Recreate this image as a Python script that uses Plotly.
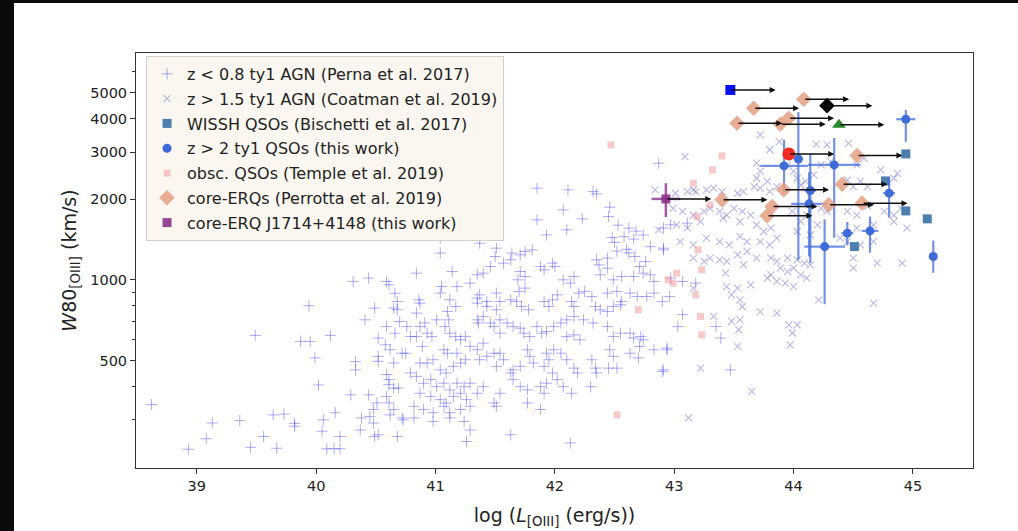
import numpy as np
import plotly.graph_objects as go

# ---------------- data (log L[OIII] in erg/s, W80 in km/s) ----------------
PERNA = [
    (38.62, 342), (38.93, 233), (39.08, 255), (39.13, 292), (39.36, 298), (39.45, 237), (39.56, 260),
    (39.67, 235), (39.64, 313), (39.73, 315), (39.82, 284), (39.82, 291), (39.49, 620), (39.94, 800),
    (39.87, 589), (39.95, 589), (40.12, 620), (39.99, 511), (40.02, 405), (40.06, 300), (40.05, 272),
    (40.16, 319), (40.20, 260), (40.09, 234), (40.15, 234), (40.20, 234), (40.31, 986), (40.44, 1015),
    (40.49, 784), (40.41, 709), (40.33, 495), (40.33, 461), (40.29, 372), (40.44, 372), (40.59, 986),
    (40.61, 958), (40.66, 891), (40.68, 830), (40.65, 784), (40.68, 773), (40.70, 699), (40.59, 669),
    (40.66, 632), (40.52, 606), (40.58, 572), (40.62, 548), (40.52, 518), (40.52, 496), (40.65, 489),
    (40.72, 532), (40.59, 443), (40.61, 424), (40.61, 406), (40.65, 394), (40.69, 394), (40.59, 367),
    (40.61, 347), (40.65, 328), (40.62, 313), (40.51, 347), (40.48, 328), (40.45, 309), (40.38, 305),
    (40.48, 292), (40.37, 275), (40.52, 264), (40.49, 260), (40.68, 260), (40.72, 305),
    (42.87, 2725), (41.85, 2198), (42.11, 2167), (42.32, 2135), (42.35, 2094), (42.07, 1824), (42.23, 1689),
    (42.46, 1867), (42.45, 1723), (41.85, 1675), (41.93, 1472), (42.10, 1537), (41.04, 1431), (41.04, 1258),
    (41.37, 1370), (40.84, 1059), (41.14, 1074), (42.53, 1600), (42.62, 1560), (42.68, 1520), (42.74, 1470),
    (42.58, 1450), (42.66, 1420), (42.60, 1300), (42.62, 1260), (42.52, 1280), (42.48, 1440), (42.50, 1380),
    (42.80, 1330), (42.91, 1313),
    (41.51, 1313), (41.64, 1258), (41.71, 1240), (41.75, 1276), (41.81, 1294), (41.63, 1188), (41.57, 1154),
    (41.50, 1222), (41.88, 1121), (41.91, 1090), (41.98, 1154), (42.00, 1121), (41.71, 1074), (41.75, 1029),
    (41.69, 1000), (42.07, 1000), (42.13, 972), (42.16, 1029), (41.46, 1121), (41.40, 1059), (41.35, 1044),
    (41.29, 972), (41.18, 944), (41.05, 944), (41.04, 892), (40.86, 842), (40.87, 818), (41.12, 842),
    (41.17, 795), (41.10, 762), (41.35, 854), (41.37, 879), (41.43, 830), (41.51, 892), (41.54, 830),
    (41.63, 842), (41.70, 905), (41.75, 931), (41.68, 830), (41.72, 795), (41.78, 773), (41.91, 830),
    (41.98, 842), (41.95, 795), (42.02, 879), (42.14, 830), (42.16, 795), (42.20, 892), (42.25, 905),
    (42.31, 866), (42.34, 795), (42.38, 773), (42.44, 762), (42.49, 795), (42.55, 807), (42.56, 830),
    (42.44, 892), (42.52, 905), (42.63, 892), (42.69, 866), (42.77, 866), (42.83, 892), (42.90, 830),
    (42.38, 1044), (42.44, 1105), (42.49, 1000), (42.56, 1029), (42.66, 1029), (42.74, 1059), (42.35, 1188),
    (42.37, 1137), (42.44, 1205), (42.67, 1222), (42.71, 1121), (42.76, 1170), (42.80, 1044), (42.83, 986),
    (40.84, 751), (40.87, 669), (40.91, 690), (40.93, 632), (40.97, 614), (40.84, 614), (40.89, 564),
    (41.01, 709), (41.11, 709), (41.12, 632), (41.17, 614), (41.21, 597), (41.25, 614), (41.08, 669),
    (41.10, 532), (41.07, 548), (41.18, 532), (41.25, 503), (41.35, 709), (41.36, 690), (41.40, 730),
    (41.46, 690), (41.49, 669), (41.54, 632), (41.35, 818), (41.43, 795), (41.51, 773), (41.54, 709),
    (41.60, 690), (41.65, 669), (41.71, 660), (41.74, 632), (41.79, 614), (41.85, 669), (41.89, 632),
    (41.93, 641), (41.99, 669), (42.05, 690), (42.10, 614), (42.16, 623), (42.21, 597), (42.10, 709),
    (42.16, 730), (42.24, 709), (42.32, 690), (42.44, 669), (42.49, 614), (42.55, 632), (42.63, 632),
    (42.66, 606), (42.72, 614), (42.74, 597), (42.46, 548), (42.49, 518), (42.63, 532), (42.70, 511),
    (42.71, 564), (42.52, 468), (42.45, 468), (42.31, 503), (42.34, 468), (42.35, 449), (42.16, 468),
    (42.19, 449), (41.93, 532), (41.99, 548), (42.05, 532), (42.10, 503), (41.91, 475), (41.95, 503),
    (41.98, 449), (41.77, 548), (41.79, 518), (41.82, 489), (41.71, 475), (41.65, 461), (41.40, 580),
    (41.49, 532), (41.54, 532), (41.57, 503), (41.43, 518), (41.51, 475), (41.63, 449), (41.65, 424),
    (41.29, 564), (41.35, 548), (41.37, 503),
    (40.87, 489), (40.93, 489), (40.98, 503), (41.04, 461), (41.09, 449), (41.15, 475), (41.21, 489),
    (40.84, 436), (40.90, 411), (40.96, 424), (41.01, 399), (41.07, 411), (41.12, 388), (41.18, 411),
    (41.24, 399), (41.29, 411), (40.87, 377), (40.96, 367), (41.04, 357), (41.09, 347), (41.15, 367),
    (41.21, 377), (41.26, 357), (41.35, 377), (41.40, 399), (40.82, 337), (40.90, 328), (40.98, 319),
    (41.07, 337), (41.12, 319), (41.21, 328), (41.29, 337), (40.73, 300), (40.82, 305), (40.98, 296),
    (41.12, 305), (41.24, 296), (41.29, 275), (41.26, 249), (41.63, 264), (41.88, 328), (41.77, 347),
    (42.13, 246), (42.14, 377), (42.30, 399), (41.49, 347), (41.54, 377), (41.51, 337), (41.71, 399),
    (41.77, 388), (41.88, 399), (41.93, 411), (41.91, 377), (42.02, 424), (42.07, 399), (42.91, 461),
    (42.94, 548), (42.83, 548), (40.76, 669), (40.79, 614), (40.75, 532), (40.79, 449),
    (42.91, 1294), (42.97, 1015), (42.96, 866), (43.07, 986), (43.18, 972), (43.07, 741), (43.03, 669),
    (43.35, 669), (43.39, 606), (42.94, 556), (43.47, 461), (42.90, 455), (42.91, 1560), (42.97, 1605),
    (43.11, 1628),
]

COATMAN = [
    (43.16, 931), (43.33, 730), (43.48, 699), (43.55, 709), (43.54, 651), (43.53, 564), (43.22, 468),
    (43.65, 383), (43.12, 305), (43.86, 751), (43.96, 679), (44.03, 679), (43.99, 633), (43.97, 572),
    (43.72, 761), (44.67, 819), (44.21, 842), (44.50, 1106), (44.50, 1205), (44.70, 1154), (44.91, 1154),
    (43.44, 944), (43.53, 931), (43.48, 879), (43.55, 842), (43.57, 795), (43.81, 1205), (43.86, 1171),
    (43.95, 1205), (44.03, 1188), (44.09, 1154), (44.14, 1137), (43.89, 1106), (43.95, 1074), (44.00, 1106),
    (44.06, 1044), (44.11, 1015), (43.86, 986), (43.93, 972), (44.00, 944), (43.81, 1044), (43.78, 1015),
    (43.64, 958), (43.16, 1205), (43.25, 1171), (43.30, 1205), (43.38, 1188), (43.44, 1171), (43.53, 1240),
    (43.61, 1276), (43.69, 1205), (43.58, 1137), (43.43, 1059), (43.09, 2885), (43.72, 3475), (43.88, 3280),
    (43.80, 3060), (44.19, 3210), (44.28, 3190), (44.46, 3230), (43.69, 2725), (43.72, 2540), (43.58, 2135),
    (43.53, 2105), (43.40, 2135), (43.33, 2198), (43.27, 2167), (43.18, 2135), (43.69, 2395), (43.78, 2330),
    (43.67, 2230), (43.72, 2198), (43.80, 2135), (43.86, 2230), (43.95, 2685), (44.00, 2540), (44.03, 2395),
    (44.06, 2260), (44.10, 2330), (44.17, 2465), (44.23, 2685), (44.31, 2765), (44.53, 2685), (44.59, 2840),
    (44.73, 2575), (44.84, 2395), (44.87, 2498), (44.56, 2330), (44.50, 2230), (44.62, 2230), (44.45, 2360),
    (42.99, 1850), (43.07, 1800), (43.16, 1745), (43.25, 1800), (43.30, 1850), (43.38, 1800), (43.44, 1745),
    (43.50, 1850), (43.57, 1800), (43.02, 1605), (43.11, 1560), (43.22, 1650), (43.41, 1700), (43.55, 1650),
    (43.64, 1745), (43.69, 1605), (43.75, 1515), (43.81, 1560), (43.05, 1390), (43.16, 1350), (43.27, 1430),
    (43.38, 1390), (43.46, 1350), (43.55, 1450), (43.61, 1390), (43.72, 1390), (43.80, 1350), (43.86, 1430),
    (43.99, 1800), (44.06, 1650), (44.11, 1745), (44.03, 1515), (44.14, 1470), (44.20, 1605), (44.23, 1850),
    (44.28, 1800), (44.45, 1800), (44.53, 1745), (44.62, 1885), (44.76, 1800), (44.84, 1745), (44.90, 1850),
    (44.95, 1560), (44.53, 1560), (44.67, 1605), (44.84, 1650), (44.67, 1390), (44.56, 1350), (44.45, 1390),
    (44.39, 1430), (43.01, 2105), (43.11, 2135), (43.16, 2167), (42.87, 1537), (42.84, 2167),
]

WISSH_L = [44.94, 44.77, 44.94, 45.12, 44.51]
WISSH_W = [2952, 2340, 1808, 1689, 1331]

THIS_L = [44.94, 44.04, 43.92, 44.34, 44.14, 44.13, 44.80, 44.45, 44.64, 44.26, 45.17]
THIS_W = [3978, 2827, 2663, 2686, 2155, 1922, 2107, 1494, 1523, 1331, 1222]
THIS_W_UP = [330, 1400, 670, 700, 800, 600, 300, 150, 200, 350, 180]
THIS_W_LO = [700, 1640, 550, 1250, 1000, 700, 400, 150, 260, 520, 160]
THIS_L_ERR = [0.08, 0.04, 0.20, 0.22, 0.05, 0.15, 0.05, 0.05, 0.07, 0.17, 0.03]

OBSC_L = [42.47, 43.40, 43.32, 43.16, 43.30, 43.19, 43.20, 43.23, 43.02, 42.99, 43.18, 43.22, 43.23, 42.70, 42.95, 42.52]
OBSC_W = [3190, 2903, 2575, 2295, 1905, 1722, 1294, 1090, 1059, 972, 879, 730, 623, 773, 1000, 313]

ERQ_L = [44.085, 43.666, 43.526, 43.889, 43.959, 44.532, 43.917, 44.407, 43.401, 44.294, 44.574, 43.820, 43.778]
ERQ_W = [4725, 4370, 3843, 3810, 4010, 2910, 2167, 2275, 1989, 1905, 1933, 1877, 1733]

J1714_L, J1714_W = [42.93], [2005]
J1714_L_ERR, J1714_W_ERR = [0.12], [290]

# individual literature points (lower limits on L) without legend entries
EXTRA = [
    # (logL, W80, symbol, colour, size)
    (43.47, 5117, "square", "#0a10f0", 10),
    (44.28, 4470, "diamond", "#000000", 12),
    (44.38, 3790, "triangle-up", "#2a8a2a", 12),
    (43.96, 2952, "circle", "#f02a20", 13),
]
ARROW_DEX = 0.38

X_TICKS = [39, 40, 41, 42, 43, 44, 45]
Y_TICKS = [500, 1000, 2000, 3000, 4000, 5000]
Y_MINOR = [300, 400, 600, 700, 800, 900, 6000]

# ---------------- figure ----------------
fig = go.Figure()
pl, pw = zip(*PERNA)
cl, cw = zip(*COATMAN)

fig.add_trace(go.Scatter(
    x=pl, y=pw, mode="markers", name="z &lt; 0.8 ty1 AGN (Perna et al. 2017)", legendgroup="a",
    marker=dict(symbol="cross-thin", size=8, color="rgba(70,70,230,0.45)",
                line=dict(width=1, color="rgba(70,70,230,0.45)"))))
fig.add_trace(go.Scatter(
    x=cl, y=cw, mode="markers", name="z &gt; 1.5 ty1 AGN (Coatman et al. 2019)", legendgroup="b",
    marker=dict(symbol="x-thin", size=7, color="rgba(95,95,200,0.45)",
                line=dict(width=1.1, color="rgba(95,95,200,0.45)"))))
fig.add_trace(go.Scatter(
    x=WISSH_L, y=WISSH_W, mode="markers", name="WISSH QSOs (Bischetti et al. 2017)", legendgroup="c",
    marker=dict(symbol="square", size=9, color="#4c7fae")))
fig.add_trace(go.Scatter(
    x=THIS_L, y=THIS_W, mode="markers", name="z &gt; 2 ty1 QSOs (this work)", legendgroup="d",
    marker=dict(symbol="circle", size=9, color="#3f6bd8"),
    error_y=dict(type="data", symmetric=False, array=THIS_W_UP, arrayminus=THIS_W_LO,
                 color="rgba(70,110,220,0.75)", thickness=2.2, width=0),
    error_x=dict(type="data", array=THIS_L_ERR, color="rgba(70,110,220,0.75)", thickness=2.2, width=0)))
fig.add_trace(go.Scatter(
    x=OBSC_L, y=OBSC_W, mode="markers", name="obsc. QSOs (Temple et al. 2019)", legendgroup="e",
    marker=dict(symbol="square", size=7, color="rgba(240,150,150,0.5)")))
fig.add_trace(go.Scatter(
    x=ERQ_L, y=ERQ_W, mode="markers", name="core-ERQs (Perrotta et al. 2019)", legendgroup="f",
    marker=dict(symbol="diamond", size=12, color="rgba(228,160,130,0.85)")))
fig.add_trace(go.Scatter(
    x=J1714_L, y=J1714_W, mode="markers", name="core-ERQ J1714+4148 (this work)", legendgroup="g",
    marker=dict(symbol="square", size=9, color="rgba(140,50,140,0.9)"),
    error_y=dict(type="data", array=J1714_W_ERR, color="rgba(140,50,140,0.8)", thickness=2.5, width=0),
    error_x=dict(type="data", array=J1714_L_ERR, color="rgba(140,50,140,0.8)", thickness=2.5, width=0)))

for (l, w, sym, col, sz) in EXTRA:
    fig.add_trace(go.Scatter(x=[l], y=[w], mode="markers", showlegend=False,
                             marker=dict(symbol=sym, size=sz, color=col)))

# lower-limit arrows
arrow_pts = list(zip(ERQ_L, ERQ_W)) + list(zip(J1714_L, J1714_W)) + [(e[0], e[1]) for e in EXTRA]
for (l, w) in arrow_pts:
    fig.add_annotation(x=l + ARROW_DEX, y=np.log10(w), ax=l, ay=np.log10(w),
                       xref="x", yref="y", axref="x", ayref="y", text="", showarrow=True,
                       arrowhead=2, arrowsize=0.8, arrowwidth=1.5, arrowcolor="#111111", standoff=0)

# black frame strips of the original picture
fig.add_shape(type="rect", xref="paper", yref="paper", x0=-0.2, x1=(14 - 136) / 837, y0=-0.3, y1=1.3,
              fillcolor="#0a0a0a", line=dict(width=0), layer="below")
fig.add_shape(type="rect", xref="paper", yref="paper", x0=-0.2, x1=1.2, y0=(468 - 3) / 415, y1=1.3,
              fillcolor="#0a0a0a", line=dict(width=0), layer="below")

fig.update_layout(
    width=1018, height=531,
    margin=dict(l=136, r=45, t=53, b=63, autoexpand=False),
    paper_bgcolor="white", plot_bgcolor="white",
    font=dict(family="DejaVu Sans", color="#222222"),
    showlegend=True,
    legend=dict(x=0.012, y=0.993, xanchor="left", yanchor="top",
                bgcolor="#fbf7f0", bordercolor="#cfcfcf", borderwidth=1,
                font=dict(size=16, family="DejaVu Sans", color="#222222"),
                tracegroupgap=1, itemsizing="trace"),
)
fig.update_xaxes(
    automargin=False,
    range=[38.491, 45.503], tickmode="array", tickvals=X_TICKS,
    ticks="outside", ticklen=5, tickwidth=1, tickcolor="#333333",
    showline=True, linecolor="#333333", linewidth=1, mirror=True,
    showgrid=False, zeroline=False, tickfont=dict(size=14.5),
    title=dict(text="log (<i>L</i><sub>[OIII]</sub> (erg/s))", font=dict(size=19), standoff=15),
)
fig.update_yaxes(
    automargin=False,
    type="log", range=[np.log10(198.3), np.log10(7030)], tickmode="array",
    tickvals=Y_TICKS, ticktext=[str(v) for v in Y_TICKS],
    ticks="outside", ticklen=5, tickwidth=1, tickcolor="#333333",
    minor=dict(tickvals=Y_MINOR, ticks="outside", ticklen=3, tickcolor="#333333", showgrid=False),
    showline=True, linecolor="#333333", linewidth=1, mirror=True,
    showgrid=False, zeroline=False, tickfont=dict(size=14.5),
    title=dict(text="<i>W</i>80<sub>[OIII]</sub> (km/s)", font=dict(size=19), standoff=8),
)

fig.write_html("out.html")
